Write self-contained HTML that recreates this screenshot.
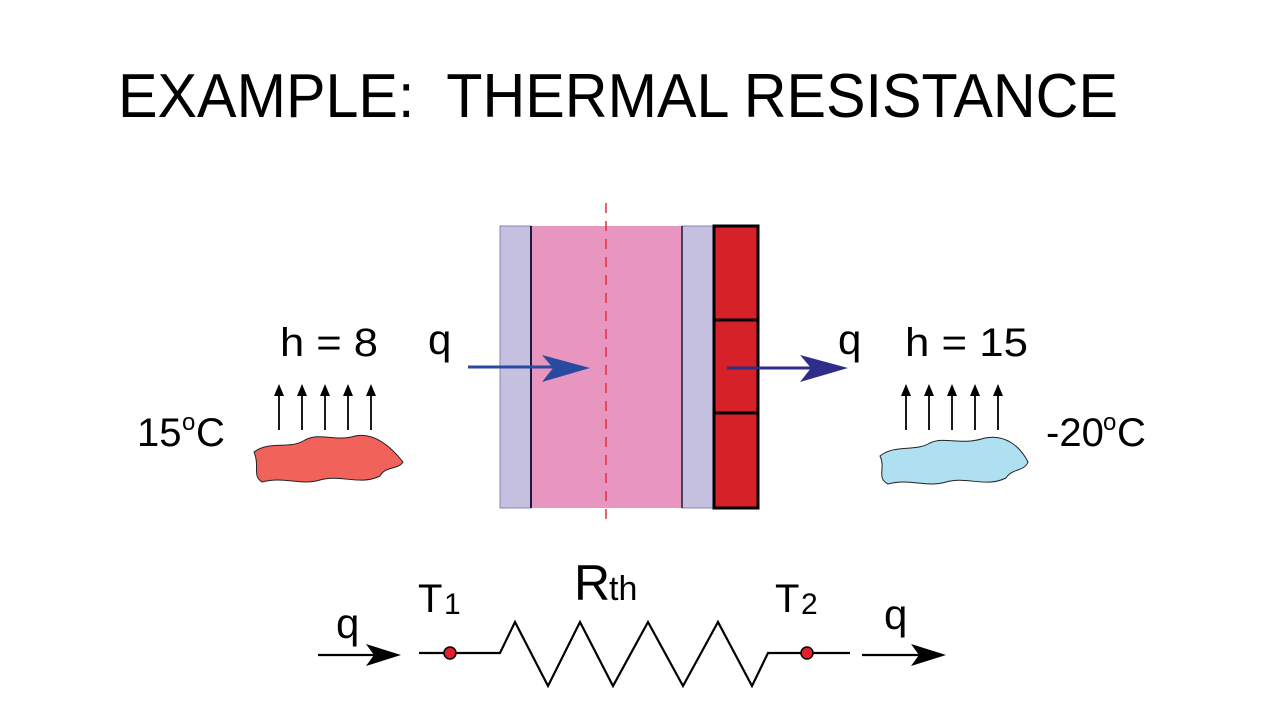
<!DOCTYPE html>
<html><head><style>
body{margin:0;background:#fff;}
svg text{font-family:"Liberation Sans",sans-serif;fill:#000;}
</style></head><body>
<svg width="1280" height="720" viewBox="0 0 1280 720" xmlns="http://www.w3.org/2000/svg">
<text x="118" y="117" font-size="62" textLength="1000" lengthAdjust="spacingAndGlyphs">EXAMPLE:&#160; THERMAL RESISTANCE</text>
<!-- wall -->
<rect x="500" y="226" width="31" height="282" fill="#c5bfe0" stroke="#8a86b0" stroke-width="1"/>
<rect x="531" y="226" width="151" height="282" fill="#e896c0"/>
<line x1="531" y1="226" x2="531" y2="508" stroke="#1a1a3a" stroke-width="2"/>
<rect x="682" y="226" width="31" height="282" fill="#c5bfe0" stroke="#8a86b0" stroke-width="1"/>
<line x1="682" y1="226" x2="682" y2="508" stroke="#1a1a3a" stroke-width="1.5"/>
<rect x="714" y="226" width="44" height="282" fill="#d62128" stroke="#000" stroke-width="3"/>
<line x1="714" y1="320" x2="758" y2="320" stroke="#000" stroke-width="3"/>
<line x1="714" y1="413" x2="758" y2="413" stroke="#000" stroke-width="3"/>
<line x1="606" y1="203" x2="606" y2="527" stroke="#e0303a" stroke-width="1.5" stroke-dasharray="10,8"/>
<!-- blue arrows -->
<line x1="468" y1="367" x2="560" y2="367" stroke="#2a4aa0" stroke-width="3"/>
<path d="M590,368 L542,355 L553,368 L542,382z" fill="#2a4aa0"/>
<line x1="727" y1="368" x2="820" y2="368" stroke="#2e2e8a" stroke-width="3"/>
<path d="M848,368 L800,355 L811,368 L800,382z" fill="#2e2e8a"/>
<text x="428" y="354" font-size="42">q</text>
<text x="838" y="354" font-size="42">q</text>
<text x="280" y="356" font-size="40" textLength="98" lengthAdjust="spacingAndGlyphs">h = 8</text>
<text x="905" y="356" font-size="40" textLength="123" lengthAdjust="spacingAndGlyphs">h = 15</text>
<text x="137" y="446" font-size="40">15</text><text x="182" y="430" font-size="24">o</text><text x="196" y="446" font-size="40">C</text>
<text x="1046" y="446" font-size="40">-20</text><text x="1103" y="430" font-size="24">o</text><text x="1117" y="446" font-size="40">C</text>
<!-- small up arrows -->
<g stroke="#000" stroke-width="1.8">
<line x1="279" y1="430" x2="279" y2="390"/><line x1="302" y1="430" x2="302" y2="390"/><line x1="325" y1="430" x2="325" y2="390"/><line x1="348" y1="430" x2="348" y2="390"/><line x1="371" y1="430" x2="371" y2="390"/>
<line x1="906" y1="430" x2="906" y2="390"/><line x1="929" y1="430" x2="929" y2="390"/><line x1="952" y1="430" x2="952" y2="390"/><line x1="975" y1="430" x2="975" y2="390"/><line x1="998" y1="430" x2="998" y2="390"/>
</g>
<g fill="#000">
<path d="M279,384 l-5,12 h10z"/><path d="M302,384 l-5,12 h10z"/><path d="M325,384 l-5,12 h10z"/><path d="M348,384 l-5,12 h10z"/><path d="M371,384 l-5,12 h10z"/>
<path d="M906,384 l-5,12 h10z"/><path d="M929,384 l-5,12 h10z"/><path d="M952,384 l-5,12 h10z"/><path d="M975,384 l-5,12 h10z"/><path d="M998,384 l-5,12 h10z"/>
</g>
<!-- blobs -->
<path d="M254,452 C270,440 290,450 305,440 C320,432 335,442 355,436 C375,432 392,448 403,462 C398,470 385,466 380,476 C360,486 340,474 320,480 C300,486 285,476 262,482 C252,476 260,466 254,452z" fill="#f0625a" stroke="#222" stroke-width="1"/>
<path d="M880,456 C895,444 915,452 930,443 C945,436 960,446 985,438 C1005,434 1020,446 1028,462 C1024,472 1012,468 1006,478 C986,488 966,476 946,482 C926,488 910,478 888,484 C876,478 886,468 880,456z" fill="#aee0f2" stroke="#222" stroke-width="1"/>
<!-- circuit -->
<line x1="318" y1="655" x2="380" y2="655" stroke="#000" stroke-width="2.2"/>
<path d="M401,655 L366,644 L374,655 L366,666z" fill="#000"/>
<line x1="862" y1="655" x2="925" y2="655" stroke="#000" stroke-width="2.2"/>
<path d="M946,655 L911,644 L919,655 L911,666z" fill="#000"/>
<polyline points="419,653 500,653 515,622 548,686 580,622 613,686 648,622 683,686 718,622 752,686 768,653 850,653" fill="none" stroke="#000" stroke-width="2.2"/>
<circle cx="450" cy="653" r="6" fill="#e0202a" stroke="#000" stroke-width="1.5"/>
<circle cx="807" cy="653" r="6" fill="#e0202a" stroke="#000" stroke-width="1.5"/>
<text x="336" y="638" font-size="42">q</text>
<text x="884" y="629" font-size="42">q</text>
<text x="418" y="612" font-size="40">T</text><text x="444" y="614" font-size="30">1</text>
<text x="775" y="612" font-size="40">T</text><text x="801" y="614" font-size="30">2</text>
<text x="574" y="600" font-size="50">R</text><text x="609" y="600" font-size="34">th</text>
</svg>
</body></html>
